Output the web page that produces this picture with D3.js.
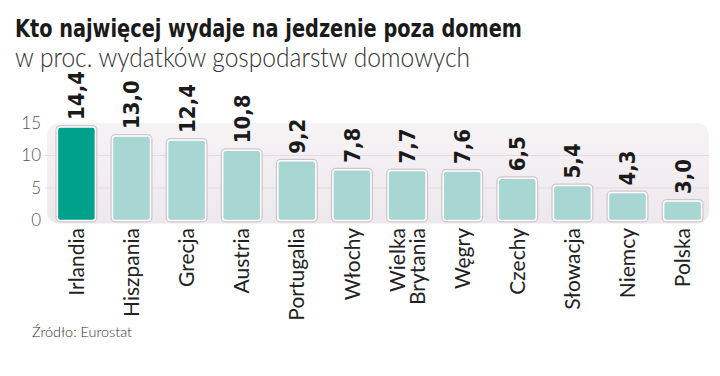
<!DOCTYPE html>
<html>
<head>
<meta charset="utf-8">
<script src="https://cdn.jsdelivr.net/npm/d3@7"></script>
<style>
  body { margin: 0; background: #fff; }
  svg { display: block; }
</style>
</head>
<body>
<div class="C"></div>
<script>
// dane
var countries = ['Irlandia', 'Hiszpania', 'Grecja', 'Austria', 'Portugalia', 'Włochy',
                 'Wielka Brytania', 'Węgry', 'Czechy', 'Słowacja', 'Niemcy', 'Polska'];
var values = [14.4, 13.0, 12.4, 10.8, 9.2, 7.8, 7.7, 7.6, 6.5, 5.4, 4.3, 3.0];
var yTicks = [0, 5, 10, 15];
var title = 'Kto najwięcej wydaje na jedzenie poza domem';
var subtitle = 'w proc. wydatków gospodarstw domowych';
var source = 'Źródło: Eurostat';

var width = 720, height = 376;
var svg = d3.select('.C').append('svg').attr('width', width).attr('height', height);

var x = d3.scaleBand().domain(countries).range([48, 711]).paddingInner(0.31).paddingOuter(0.17);
var y = d3.scaleLinear().domain([0, 15]).range([220.5, 123]);

// tytul
svg.append('text').text(title)
    .attr('x', 15).attr('y', 37)
    .attr('textLength', 507).attr('lengthAdjust', 'spacingAndGlyphs')
    .style('font-family', 'DejaVu Sans Condensed, DejaVu Sans')
    .style('font-weight', 'bold').style('font-size', '24px').style('fill', '#1a1a1a');
svg.append('text').text(subtitle)
    .attr('x', 15).attr('y', 67)
    .attr('textLength', 455).attr('lengthAdjust', 'spacingAndGlyphs')
    .style('font-family', 'Lato, Open Sans').style('font-weight', 300)
    .style('font-size', '27px').style('fill', '#333');

// tlo wykresu
var defs = svg.append('defs');
var grad = defs.append('linearGradient').attr('id', 'bg').attr('x1', 0).attr('y1', 0).attr('x2', 0).attr('y2', 1);
grad.append('stop').attr('offset', '0%').attr('stop-color', '#f6f3f5');
grad.append('stop').attr('offset', '100%').attr('stop-color', '#ede8ec');
svg.append('rect')
    .attr('x', 47).attr('y', y(15)).attr('width', 662).attr('height', y(0) - y(15) + 3)
    .attr('rx', 12).attr('fill', 'url(#bg)');

// siatka
svg.append('g').selectAll('line').data([5, 10]).enter().append('line')
    .attr('x1', 45).attr('x2', 709)
    .attr('y1', function (d) { return y(d); }).attr('y2', function (d) { return y(d); })
    .style('stroke', '#e2dbe0').style('stroke-width', 1);

// os y
var yAxis = svg.append('g').attr('transform', 'translate(41,0)')
    .call(d3.axisLeft(y).tickValues(yTicks).tickSize(0).tickPadding(0));
yAxis.select('.domain').remove();
yAxis.selectAll('text')
    .style('font-family', 'Lato, Open Sans').style('font-weight', 300)
    .style('font-size', '17px').style('fill', '#555');

// slupki
var bars = svg.append('g');
bars.selectAll('.shadow').data(values).enter().append('rect')
    .attr('class', 'shadow')
    .attr('x', function (d, i) { return x(countries[i]) - 1; })
    .attr('y', function (d) { return y(d) - 1; })
    .attr('width', x.bandwidth() + 2)
    .attr('height', function (d) { return y(0) - y(d) + 2; })
    .attr('rx', 4)
    .style('fill', 'none').style('stroke', '#cfc6cd').style('stroke-width', 2);
bars.selectAll('.bar').data(values).enter().append('rect')
    .attr('class', 'bar')
    .attr('x', function (d, i) { return x(countries[i]); })
    .attr('y', function (d) { return y(d); })
    .attr('width', x.bandwidth())
    .attr('height', function (d) { return y(0) - y(d); })
    .attr('rx', 3)
    .style('fill', function (d, i) { return i === 0 ? '#00a18c' : '#a8d6d2'; })
    .style('stroke', '#fff').style('stroke-width', 1.5);

// wartosci
svg.append('g').selectAll('text').data(values).enter().append('text')
    .attr('transform', function (d, i) {
        return 'translate(' + (x(countries[i]) + x.bandwidth() / 2) + ',' + (y(d) - 7) + ') rotate(-90)';
    })
    .attr('dy', '0.36em')
    .text(function (d) { return d.toFixed(1).replace('.', ','); })
    .style('font-family', 'DejaVu Sans Condensed, DejaVu Sans')
    .style('font-weight', 'bold').style('font-size', '22px').style('fill', '#1a1a1a');

// etykiety krajow
var labels = svg.append('g').selectAll('text').data(countries).enter().append('text')
    .attr('transform', function (d) {
        return 'translate(' + (x(d) + x.bandwidth() / 2) + ',228) rotate(-90)';
    })
    .attr('text-anchor', 'end')
    .style('font-family', 'Lato, Open Sans').style('font-weight', 400)
    .style('font-size', '21px').style('fill', '#222');
labels.each(function (d) {
    var parts = d.split(' ');
    var t = d3.select(this);
    parts.forEach(function (p, k) {
        t.append('tspan').attr('x', 0)
            .attr('y', ((k - (parts.length - 1) / 2) * 20) + 'px')
            .attr('dy', '0.36em')
            .text(p);
    });
});

// zrodlo
svg.append('text').text(source)
    .attr('x', 32).attr('y', 337)
    .attr('textLength', 100).attr('lengthAdjust', 'spacingAndGlyphs')
    .style('font-family', 'Lato, Open Sans').style('font-weight', 300)
    .style('font-size', '14px').style('fill', '#333');
</script>
</body>
</html>
